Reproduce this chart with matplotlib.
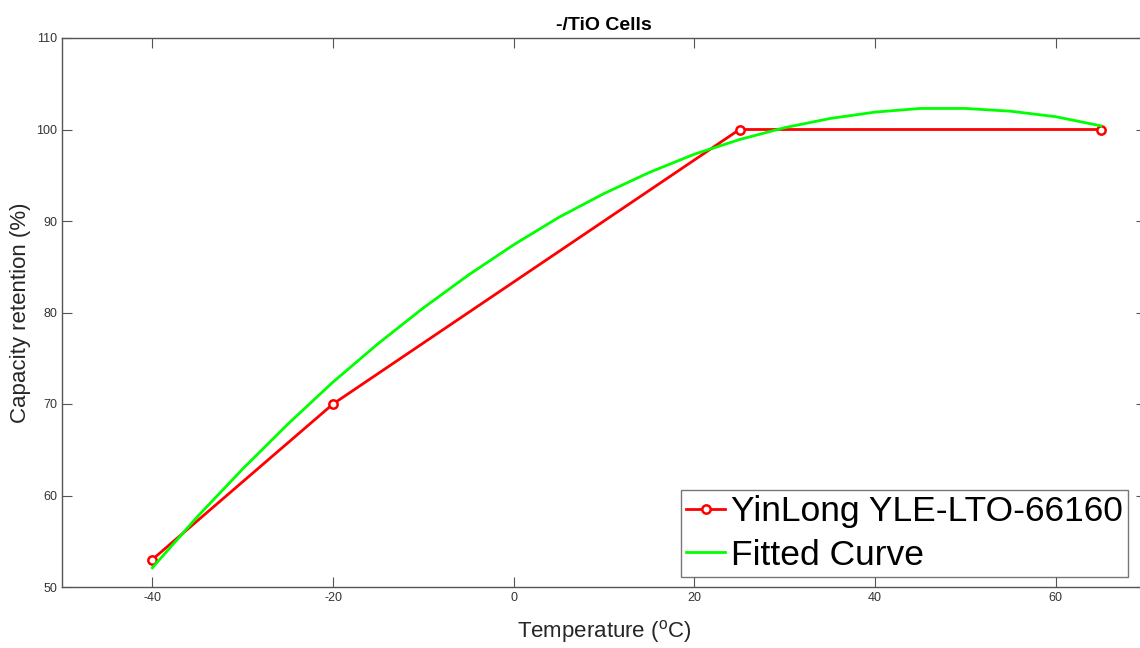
import matplotlib
matplotlib.use("Agg")
import matplotlib.pyplot as plt

plt.rcParams["font.family"] = ["Liberation Sans", "DejaVu Sans"]
plt.rcParams["axes.unicode_minus"] = False

# measured points
temps = [-40, -20, 25, 65]
retention = [53, 70, 100, 100]

# fitted curve, every 5 degC
fit_t = [-40, -35, -30, -25, -20, -15, -10, -5, 0, 5, 10,
         15, 20, 25, 30, 35, 40, 45, 50, 55, 60, 65]
fit_y = [52.1, 57.7, 62.9, 67.8, 72.4, 76.6, 80.5, 84.1, 87.4, 90.4, 93.0,
         95.3, 97.3, 98.9, 100.2, 101.2, 101.9, 102.3, 102.3, 102.0, 101.4, 100.4]

xticks = [-40, -20, 0, 20, 40, 60]
yticks = [50, 60, 70, 80, 90, 100, 110]

W, H = 1140, 648
fig = plt.figure(figsize=(W / 100, H / 100), dpi=100)
# axes: left spine at 62px, x=70 would sit at ~1146px (cropped in reference)
ax = fig.add_axes([62 / W, 1 - 587 / H, (1146 - 62) / W, (587 - 38) / H])

ax.plot(temps, retention, "-o", color="red", lw=2, ms=6, mfc="white", mew=1.8,
        label="YinLong YLE-LTO-66160")
ax.plot(fit_t, fit_y, "-", color="#00ff00", lw=2, label="Fitted Curve")

ax.set_xlim(-50, 70)
ax.set_ylim(50, 110)
ax.set_xticks(xticks)
ax.set_yticks(yticks)

gray = "#262626"
for s in ax.spines.values():
    s.set_color("#555555")
    s.set_linewidth(1.0)
ax.tick_params(direction="in", length=7, width=0.8, colors="#555555",
               labelcolor="#333333", labelsize=9, top=True, right=True)

ax.set_xlabel("Temperature ($\\mathregular{^{o}}$C)", fontsize=16, color=gray,
              labelpad=10)
ax.set_ylabel("Capacity retention (%)", fontsize=16, color=gray)
ax.yaxis.set_label_coords(-0.029, 0.5)
ax.set_title("-/TiO Cells", fontsize=14, fontweight="bold", pad=6)

leg = ax.legend(loc="lower left", bbox_to_anchor=(681 / W, 1 - 577 / H),
                bbox_transform=fig.transFigure, fontsize=25.5, frameon=True,
                fancybox=False, edgecolor="#555555", handlelength=1.1,
                handletextpad=0.15, borderpad=0.15, labelspacing=0.3,
                borderaxespad=0)
leg.get_frame().set_linewidth(1.0)

fig.savefig("out.png", dpi=100)
